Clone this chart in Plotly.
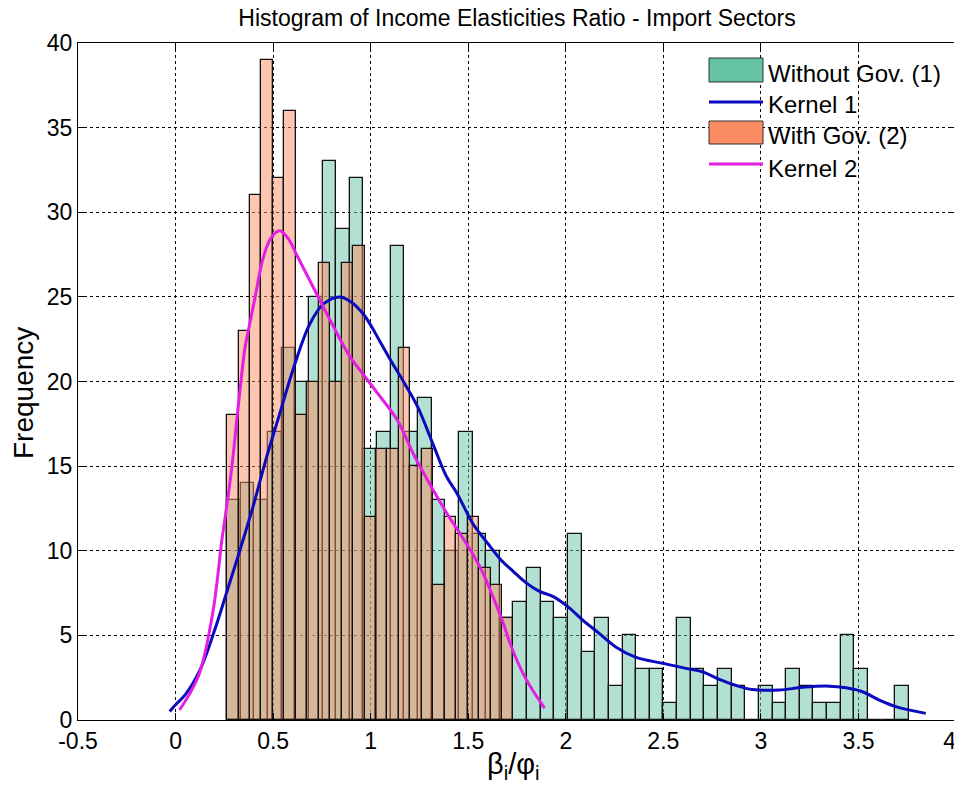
import plotly.graph_objects as go

# ---------------- data ----------------
# Histogram 1: Without Gov. (50 bins)
hist1_start = 0.2642
hist1_width = 0.06989
hist1_counts = [13, 14, 13, 17, 22, 20, 25, 33, 29, 32,
                16, 17, 28, 17, 19, 13, 10, 17, 11, 10,
                6, 7, 9, 7, 6, 11, 4, 6, 2, 5,
                3, 3, 1, 6, 3, 2, 3, 2, 0, 2,
                1, 3, 2, 1, 1, 5, 3, 0, 0, 2]

# Histogram 2: With Gov. (25 bins)
hist2_start = 0.2642
hist2_width = 0.05871
hist2_counts = [18, 23, 31, 39, 32, 36, 18, 20, 27, 20,
                27, 28, 12, 16, 16, 22, 15, 16, 8, 12,
                11, 12, 9, 8, 6]

# Kernel 1 (blue)
k1_x = [-0.03, 0.0, 0.05, 0.125, 0.2, 0.261, 0.329, 0.397, 0.466, 0.534,
        0.602, 0.688, 0.76, 0.841, 0.9, 0.968, 1.046, 1.1, 1.173, 1.241,
        1.323, 1.388, 1.442, 1.524, 1.562, 1.609, 1.664, 1.729, 1.797, 1.865,
        1.933, 2.01, 2.087, 2.173, 2.258, 2.36, 2.497, 2.616, 2.70, 2.787,
        2.87, 2.957, 3.094, 3.213, 3.35, 3.436, 3.521, 3.606, 3.692, 3.845]
k1_y = [0.5, 0.9, 1.5, 2.95, 5.3, 7.5, 10.0, 12.6, 15.5, 18.1,
        20.7, 23.4, 24.6, 25.0, 24.7, 23.9, 22.4, 21.3, 19.9, 18.5,
        16.2, 14.4, 13.4, 11.6, 11.0, 10.3, 9.5, 8.8, 8.1, 7.6,
        7.3, 6.7, 5.9, 5.1, 4.3, 3.7, 3.35, 3.05, 2.85, 2.4,
        2.05, 1.8, 1.77, 1.93, 2.0, 1.9, 1.67, 1.18, 0.79, 0.39]

# Kernel 2 (magenta)
k2_x = [0.02, 0.07, 0.124, 0.193, 0.237, 0.252, 0.287, 0.321, 0.356, 0.38,
        0.408, 0.449, 0.49, 0.534, 0.58, 0.62, 0.722, 0.807, 0.892, 0.95,
        1.036, 1.138, 1.22, 1.3, 1.391, 1.47, 1.562, 1.664, 1.732, 1.797, 1.891]
k2_y = [0.6, 1.5, 2.8, 6.5, 10.6, 11.8, 14.8, 18.5, 22.0, 23.4,
        25.0, 27.3, 28.5, 28.9, 28.4, 27.5, 25.2, 23.3, 21.5, 20.6,
        19.3, 17.7, 15.7, 14.0, 12.2, 10.8, 9.0, 6.2, 4.0, 2.4, 0.7]

x_ticks = [-0.5, 0, 0.5, 1, 1.5, 2, 2.5, 3, 3.5, 4]
# the last label is padded so that it stays inside the window's right edge
x_tick_text = ["-0.5", "0", "0.5", "1", "1.5", "2", "2.5", "3", "3.5", "4\u00a0\u00a0"]
y_ticks = [0, 5, 10, 15, 20, 25, 30, 35, 40]

legend_labels = ["Without Gov. (1)", "Kernel 1", "With Gov. (2)", "Kernel 2"]

# ---------------- styles ----------------
TEAL = "#66c2a5"
ORANGE = "#fc8d62"
BLUE = "rgb(10,10,190)"
MAGENTA = "rgb(228,30,228)"
FONT = "Liberation Sans, Arial, sans-serif"

h1_centers = [hist1_start + (i + 0.5) * hist1_width for i in range(len(hist1_counts))]
h2_centers = [hist2_start + (i + 0.5) * hist2_width for i in range(len(hist2_counts))]

fig = go.Figure()
fig.add_trace(go.Bar(
    x=h1_centers, y=hist1_counts, width=[hist1_width] * len(hist1_counts),
    marker=dict(color="rgba(102,194,165,0.5)", line=dict(color="#111111", width=1.3)),
    name=legend_labels[0], showlegend=False))
fig.add_trace(go.Scatter(
    x=k1_x, y=k1_y, mode="lines", line=dict(color=BLUE, width=3, shape="spline"),
    name=legend_labels[1], showlegend=False))
fig.add_trace(go.Bar(
    x=h2_centers, y=hist2_counts, width=[hist2_width] * len(hist2_counts),
    marker=dict(color="rgba(252,141,98,0.5)", line=dict(color="#111111", width=1.3)),
    name=legend_labels[2], showlegend=False))
fig.add_trace(go.Scatter(
    x=k2_x, y=k2_y, mode="lines", line=dict(color=MAGENTA, width=3, shape="spline"),
    name=legend_labels[3], showlegend=False))

# The page body has an 8px margin, so the figure is drawn at (8, 8) in the window.
OFF = 8
W, H = 962 - OFF, 793 - 2 * OFF
L, T = 78 - OFF, 43 - OFF
R = W - (956 - OFF)
B = H - (720 - OFF)
pw, ph = W - L - R, H - T - B


def px(x):  # window pixel x -> paper coordinate
    return (x - OFF - L) / pw


def py(y):  # window pixel y -> paper coordinate
    return (T + ph - (y - OFF)) / ph


# manual legend (no box, MATLAB style)
shapes = []
sx0, sx1 = px(709), px(763)
shapes.append(dict(type="rect", xref="paper", yref="paper", x0=sx0, x1=sx1,
                   y0=py(82), y1=py(58), fillcolor=TEAL, line=dict(color="#333", width=1)))
shapes.append(dict(type="line", xref="paper", yref="paper", x0=sx0, x1=sx1,
                   y0=py(102), y1=py(102), line=dict(color=BLUE, width=3)))
shapes.append(dict(type="rect", xref="paper", yref="paper", x0=sx0, x1=sx1,
                   y0=py(144), y1=py(121), fillcolor=ORANGE, line=dict(color="#333", width=1)))
shapes.append(dict(type="line", xref="paper", yref="paper", x0=sx0, x1=sx1,
                   y0=py(164), y1=py(164), line=dict(color=MAGENTA, width=3)))

annotations = []
for lab, yy in zip(legend_labels, [73, 104.5, 136, 168]):
    annotations.append(dict(text=lab, xref="paper", yref="paper", x=px(766), y=py(yy),
                            xanchor="left", yanchor="middle", showarrow=False,
                            font=dict(family=FONT, size=24, color="black")))

# axis titles as annotations for exact placement
annotations.append(dict(text="β<sub>i</sub>/φ<sub>i</sub>", xref="paper", yref="paper",
                        x=px(513), y=py(766), xanchor="center", yanchor="middle",
                        showarrow=False, font=dict(family=FONT, size=29, color="black")))
annotations.append(dict(text="Frequency", xref="paper", yref="paper",
                        x=px(23), y=py(393), xanchor="center", yanchor="middle",
                        textangle=-90, showarrow=False,
                        font=dict(family=FONT, size=28, color="black")))

fig.update_layout(
    width=W, height=H,
    margin=dict(l=L, r=R, t=T, b=B, autoexpand=False),
    paper_bgcolor="white", plot_bgcolor="white",
    barmode="overlay", bargap=0,
    shapes=shapes, annotations=annotations,
    title=dict(text="Histogram of Income Elasticities Ratio - Import Sectors",
               x=(517 - OFF) / W, xanchor="center", y=1 - (18 - OFF) / H, yanchor="middle",
               font=dict(family=FONT, size=23, color="black")),
    font=dict(family=FONT, size=22, color="black"),
)
fig.update_xaxes(
    range=[-0.5, 4], tickvals=x_ticks, ticktext=x_tick_text, automargin=False,
    ticklabeloverflow="allow",
    showgrid=True, gridcolor="black", griddash="dot", gridwidth=1,
    zeroline=False, showline=True, linecolor="black", linewidth=1, mirror="allticks",
    ticks="inside", ticklen=7, tickcolor="black",
    tickfont=dict(family=FONT, size=23),
)
fig.update_yaxes(
    range=[0, 40], tickvals=y_ticks, automargin=False,
    ticklabeloverflow="allow",
    showgrid=True, gridcolor="black", griddash="dot", gridwidth=1,
    zeroline=False, showline=True, linecolor="black", linewidth=1, mirror="allticks",
    ticks="inside", ticklen=7, tickcolor="black",
    tickfont=dict(family=FONT, size=23),
)

fig.write_html("out.html")
